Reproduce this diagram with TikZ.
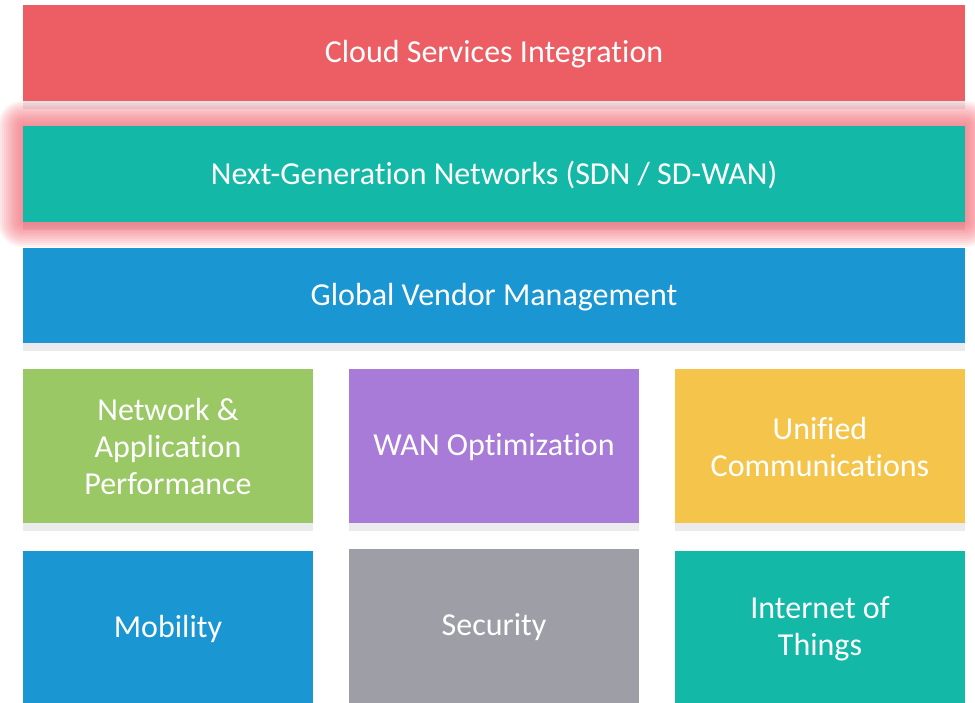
\documentclass[tikz,border=0pt]{standalone}
\usepackage{fontspec}
\setmainfont{Carlito}[Ligatures={NoCommon}]
\usepackage{xcolor}
\usetikzlibrary{calc}

\definecolor{cloudred}{HTML}{EC5E63}
\definecolor{netteal}{HTML}{13B8A7}
\definecolor{vendblue}{HTML}{1A96D3}
\definecolor{appgreen}{HTML}{99C865}
\definecolor{wanpurple}{HTML}{A77BD7}
\definecolor{ucyellow}{HTML}{F5C54B}
\definecolor{secgrey}{HTML}{9E9EA6}
\definecolor{stripgrey}{HTML}{EBEBED}
\definecolor{glowred}{HTML}{F2606C}

\tikzset{
  box/.style={inner sep=0pt, text=white, align=center,
              font=\fontsize{32}{37}\selectfont},
  strip/.style={fill=stripgrey, draw=none}
}

\begin{document}
\begin{tikzpicture}[x=1pt,y=-1pt]
\useasboundingbox (0,0) rectangle (975,703);

% grey strips under the boxes
\fill[strip] (23,101) rectangle (965,109);
\fill[strip] (23,222) rectangle (965,230);
\fill[strip] (23,343) rectangle (965,351);
\foreach \x in {23,349,675}
   \fill[strip] (\x,523) rectangle (\x+290,531);

% top bar
\fill[cloudred] (23,5) rectangle (965,101);
\node[box] at (494,54) (cloud) {Cloud Services Integration};

% glow round the highlighted bar
\foreach \r in {25,23,...,1}
   \fill[glowred, fill opacity=0.085, rounded corners=\r pt]
        (23-\r,126-\r) rectangle (965+\r,222+\r);

\fill[netteal] (23,126) rectangle (965,222);
\node[box] at (494,175) (sdwan) {Next-Generation Networks (SDN / SD-WAN)};

\fill[vendblue] (23,248) rectangle (965,343);
\node[box] at (494,297) (vendor) {Global Vendor Management};

% row of three
\fill[appgreen] (23,369) rectangle (313,523);
\node[box] at (168,447) (perf) {Network \&\\Application\\Performance};
\fill[wanpurple] (349,369) rectangle (639,523);
\node[box] at (494,447) (wan) {WAN Optimization};
\fill[ucyellow] (675,369) rectangle (965,523);
\node[box] at (820,447) (uc) {Unified\\Communications};

% bottom row
\fill[vendblue] (23,551) rectangle (313,703);
\node[box] at (168,629) (mob) {Mobility};
\fill[secgrey] (349,549) rectangle (639,703);
\node[box] at (494,627) (sec) {Security};
\fill[netteal] (675,551) rectangle (965,703);
\node[box] at (820,629) (iot) {Internet of\\Things};
\end{tikzpicture}
\end{document}
